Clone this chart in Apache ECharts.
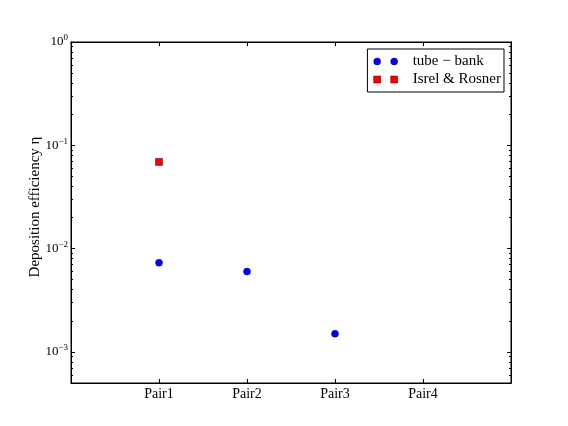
<!DOCTYPE html>
<html><head><meta charset="utf-8">
<script src="https://cdn.jsdelivr.net/npm/echarts@6/dist/echarts.min.js"></script>
<style>html,body{margin:0;padding:0;background:#fff}#c{width:568px;height:426px}</style>
</head><body><div id="c"></div>
<script>
const categories = ['Pair1', 'Pair2', 'Pair3', 'Pair4'];
const categoryPositions = [1, 2, 3, 4];
const tubeBank = [7.3e-3, 6.0e-3, 1.5e-3];
const isrelRosner = [0.069];
const yMajorTicks = [1e-3, 1e-2, 1e-1, 1];
const yMinorTicks = [5e-4, 6e-4, 7e-4, 8e-4, 9e-4,
  2e-3, 3e-3, 4e-3, 5e-3, 6e-3, 7e-3, 8e-3, 9e-3,
  2e-2, 3e-2, 4e-2, 5e-2, 6e-2, 7e-2, 8e-2, 9e-2,
  2e-1, 3e-1, 4e-1, 5e-1, 6e-1, 7e-1, 8e-1, 9e-1];
const yMin = 5e-4, yMax = 1;
const FONT = 'Liberation Serif';

const chart = echarts.init(document.getElementById('c'), null, {renderer: 'canvas'});

function yAxisDef(pos, ticks, len, labels) {
  return {
    type: 'log', logBase: 10, min: yMin, max: yMax, position: pos,
    axisLine: {show: true, lineStyle: {color: '#000', width: 1}},
    splitLine: {show: false},
    axisTick: {show: true, inside: true, length: len, customValues: ticks, lineStyle: {color: '#000'}},
    axisLabel: labels ? {
      show: true, customValues: yMajorTicks, margin: 3, fontFamily: FONT,
      formatter: v => '{b|10}{s|' + String(Math.round(Math.log10(v))).replace('-', '−') + '}',
      rich: {b: {fontSize: 13, fontFamily: FONT, color: '#000'}, s: {fontSize: 9, fontFamily: FONT, color: '#000', padding: [0, 0, 8, 0]}}
    } : {show: false}
  };
}
function xAxisDef(pos, labels) {
  return {
    type: 'value', min: 0, max: categories.length + 1, position: pos,
    axisLine: {show: true, lineStyle: {color: '#000', width: 1}},
    splitLine: {show: false},
    axisTick: {show: true, inside: true, length: 4, customValues: categoryPositions, lineStyle: {color: '#000'}},
    axisLabel: labels ? {show: true, customValues: categoryPositions, margin: 4, fontFamily: FONT, fontSize: 14, color: '#000',
      formatter: v => categories[v - 1] || ''} : {show: false}
  };
}

chart.setOption({
  animation: false,
  backgroundColor: '#fff',
  grid: {left: 71, top: 42, right: 57, bottom: 43, show: true, borderColor: '#000', borderWidth: 1},
  xAxis: [xAxisDef('bottom', true), xAxisDef('top', false)],
  yAxis: [
    yAxisDef('left', yMajorTicks, 4, true),
    yAxisDef('left', yMinorTicks, 2, false),
    yAxisDef('right', yMajorTicks, 4, false),
    yAxisDef('right', yMinorTicks, 2, false)
  ],
  graphic: [{
    type: 'text', x: 35, y: 207, rotation: Math.PI / 2,
    style: {text: 'Deposition efficiency η', fontFamily: FONT, fontSize: 15, fill: '#000', align: 'center', verticalAlign: 'middle'}
  }],
  legend: {
    orient: 'vertical', right: 64, top: 49, padding: [5, 3, 5, 6], itemGap: 3,
    borderColor: '#000', borderWidth: 1, backgroundColor: '#fff',
    itemWidth: 24, itemHeight: 7, symbolKeepAspect: false,
    itemStyle: {borderWidth: 0.5},
    textStyle: {fontFamily: FONT, fontSize: 15, color: '#000', padding: [0, 0, 0, 10]},
    data: [
      {name: 'tube − bank', icon: 'path://M0,3.5a3.5,3.5 0 1,0 7,0a3.5,3.5 0 1,0 -7,0M17,3.5a3.5,3.5 0 1,0 7,0a3.5,3.5 0 1,0 -7,0'},
      {name: 'Isrel & Rosner', icon: 'path://M0,0h7v7h-7zM17,0h7v7h-7z'}
    ]
  },
  series: [
    {name: 'tube − bank', type: 'scatter', xAxisIndex: 0, yAxisIndex: 0, symbol: 'circle', symbolSize: 7,
      itemStyle: {color: '#0000ff', borderColor: '#00003a', borderWidth: 0.5, opacity: 1},
      data: tubeBank.map((v, i) => [categoryPositions[i], v])},
    {name: 'Isrel & Rosner', type: 'scatter', xAxisIndex: 0, yAxisIndex: 0, symbol: 'rect', symbolSize: 7,
      itemStyle: {color: '#ff0000', borderColor: '#3a0000', borderWidth: 0.5, opacity: 1},
      data: isrelRosner.map((v, i) => [categoryPositions[i], v])}
  ]
});
</script></body></html>
